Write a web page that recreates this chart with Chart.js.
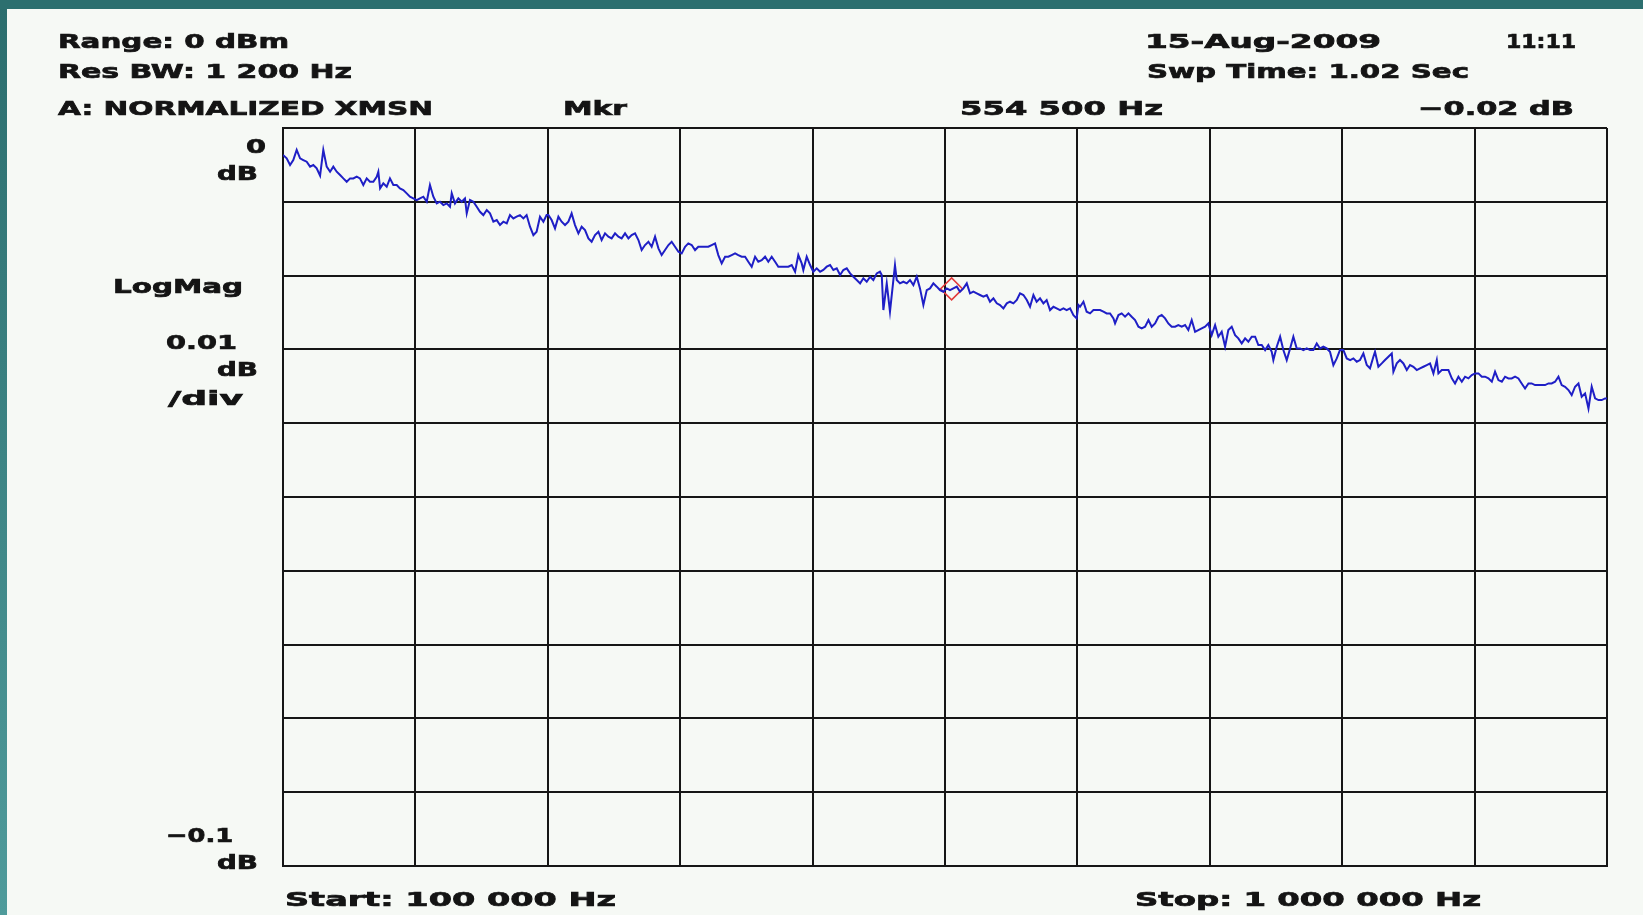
<!DOCTYPE html>
<html>
<head>
<meta charset="utf-8">
<title>A: NORMALIZED XMSN</title>
<script src="https://cdn.jsdelivr.net/npm/chart.js@4.4.0/dist/chart.umd.min.js"></script>
<style>
  html, body { margin: 0; padding: 0; background: #2d6f6f; overflow: hidden; }
  canvas { display: block; }
</style>
</head>
<body>
<canvas id="trace" width="1643" height="915"></canvas>
<script>
// sweep 100 kHz .. 1 MHz, LogMag 0.01 dB/div, top = 0 dB
const startHz = 100000;
const stopHz = 1000000;
const topDb = 0;
const bottomDb = -0.1;

// trace: frequency (kHz) and level (milli-dB)
const freqKHz = [
  100.0, 102.5, 104.8, 107.0, 109.3, 111.6, 113.8, 116.1, 118.4, 120.6, 122.9, 125.2, 127.4, 129.7, 132.0, 134.2,
  136.5, 138.8, 141.0, 143.3, 145.6, 147.8, 150.1, 152.3, 154.6, 156.9, 159.1, 161.4, 163.7, 164.8, 166.0, 168.2,
  170.5, 172.7, 175.0, 177.3, 179.5, 181.8, 184.1, 186.3, 188.6, 190.9, 193.1, 195.4, 197.7, 199.9, 202.2, 204.5,
  206.7, 209.0, 211.3, 213.5, 214.7, 216.9, 219.2, 221.5, 223.7, 224.9, 227.1, 229.4, 231.7, 233.9, 236.2, 238.5,
  240.7, 243.0, 245.3, 247.5, 249.8, 252.1, 254.3, 256.6, 258.8, 261.1, 263.4, 265.6, 267.9, 270.2, 272.4, 274.7,
  277.0, 279.2,
  280.4, 282.6, 284.9, 287.2, 289.4, 291.7, 294.0, 296.2, 298.5, 300.8, 303.0, 305.3, 307.6, 309.8, 312.1, 314.4,
  316.6, 318.9, 321.2, 323.4, 325.7, 328.0, 330.2, 332.5, 334.8, 337.0, 339.3, 341.6, 343.8, 346.1, 348.4, 350.6,
  352.9, 355.2, 357.4, 359.7, 362.0, 364.2, 366.5, 368.8, 371.0, 373.3, 375.5, 377.8, 380.1, 382.3, 384.6, 386.9,
  389.1, 391.4, 393.7, 395.9, 398.2, 400.5, 402.7, 405.0, 407.3, 409.5, 411.8, 414.1, 416.3, 418.6, 420.9, 423.1,
  425.4, 427.7, 429.9, 432.2, 434.5, 436.7, 439.0, 441.3, 443.5, 445.8, 448.1, 450.3, 452.6, 453.7, 456.0, 458.3,
  460.5, 462.8, 465.1, 467.3, 469.6, 471.9, 474.1, 476.4, 478.7, 480.9, 483.2, 485.5, 487.7, 490.0, 492.3, 494.5,
  496.8, 499.1, 501.3, 503.6, 505.8, 507.0, 508.1, 510.4, 512.6, 514.9, 516.0, 517.2, 519.4, 521.7, 524.0, 526.2,
  528.5, 530.8, 533.0, 535.3, 537.6, 539.8, 542.1, 544.4, 546.6, 548.9, 551.2, 553.4, 555.7, 558.0, 560.2, 562.5,
  564.8, 567.0, 569.3, 571.6, 573.8, 576.1, 578.4, 580.6, 582.9, 585.2, 587.4, 589.7, 592.0, 594.2, 596.5, 598.8,
  601.0, 603.3, 605.6, 607.8, 610.1, 612.3, 614.6, 616.9, 619.1, 621.4, 623.7, 625.9, 628.2, 630.5, 632.7, 635.0,
  637.3, 639.5, 640.7,
  641.8, 644.1, 646.3, 648.6, 650.9, 653.1, 655.4, 657.7, 659.9, 662.2, 664.5, 665.6, 667.9, 670.1, 672.4, 674.7,
  676.9, 679.2, 681.5, 683.7, 686.0, 688.3, 690.5, 692.8, 695.1, 697.3, 699.6, 701.8, 704.1, 706.4, 708.6, 710.9,
  713.2, 715.4, 717.7, 720.0, 722.2, 724.5, 726.8, 729.0, 731.3, 733.6, 735.8, 738.1, 740.4, 742.6, 744.9, 747.2,
  749.4, 751.7, 754.0, 756.2, 758.5, 760.8, 763.0, 765.3, 767.6, 769.8, 772.1, 773.2, 775.5, 777.8, 780.0, 782.3,
  784.6, 786.8, 789.1, 791.4, 793.6, 795.9, 798.2, 800.4, 802.7, 804.9, 807.2, 809.5, 811.7, 814.0, 816.3, 818.5,
  820.8,
  823.1, 825.4, 827.6, 829.9, 832.1, 834.4, 836.7, 838.9, 841.2, 842.3, 844.6, 846.9, 849.1, 851.4, 853.7, 854.8,
  857.1, 859.3, 861.6, 863.9, 866.1, 868.4, 870.7, 872.9, 875.2, 877.5, 879.7, 882.0, 884.3, 885.4, 887.7, 889.9,
  892.2, 894.5, 896.7, 899.0, 901.3, 903.5, 905.8, 908.1, 910.3, 912.6, 914.9, 917.1, 919.4, 921.7, 923.9, 926.2,
  928.5, 930.7, 933.0, 935.2, 937.5, 939.8, 942.0, 944.3, 946.6, 948.8, 951.1, 953.4, 955.6, 957.9, 960.2, 962.4,
  964.7, 967.0, 969.2, 971.5, 973.8, 976.0, 978.3, 980.6, 982.8, 985.1, 987.4, 989.6, 991.9, 994.2, 996.4, 998.7,
  1000.0
];
const levelMdB = [
  -3.66, -4.11, -5.02, -4.34, -2.98, -4.11, -4.34, -4.57, -5.24, -5.02, -5.47, -6.46, -2.98, -5.24, -5.92, -5.24,
  -5.92, -6.37, -6.83, -7.28, -6.83, -6.83, -6.60, -6.83, -7.73, -6.83, -7.28, -7.28, -6.60, -5.92, -8.18, -7.50,
  -7.96, -6.83, -7.73, -7.73, -8.18, -8.41, -8.86, -9.31, -9.54, -9.76, -9.54, -9.31, -9.99, -7.73, -9.31, -10.22,
  -9.99, -10.44, -10.22, -10.67, -8.86, -10.22, -9.54, -9.99, -9.54, -11.57, -9.76, -9.99, -10.67, -11.35, -11.80, -11.12,
  -11.57, -12.70, -12.48, -13.15, -12.70, -12.93, -11.80, -12.25, -12.02, -11.80, -12.25, -11.80, -13.38, -14.51, -14.06, -12.02,
  -12.70, -11.80,
  -11.79, -12.47, -13.60, -12.02, -12.70, -13.15, -12.70, -11.57, -13.15, -14.28, -13.38, -13.83, -14.96, -15.41, -14.51, -14.05,
  -15.18, -14.28, -14.73, -14.96, -14.28, -14.73, -14.96, -14.28, -14.96, -14.51, -14.28, -15.18, -16.54, -15.86, -15.41, -16.09,
  -14.73, -16.31, -17.22, -16.54, -15.86, -15.41, -16.09, -16.77, -16.99, -16.09, -15.64, -15.86, -16.54, -16.09, -16.09, -16.09,
  -16.09, -15.86, -15.64, -17.22, -18.35, -17.44, -17.44, -17.22, -16.99, -17.22, -17.44, -17.44, -18.12, -18.80, -17.44, -18.12,
  -17.90, -17.44, -18.12, -17.44, -18.12, -18.80, -18.80, -18.80, -18.80, -18.57, -19.48, -17.22, -18.35, -19.25, -17.44, -18.57,
  -19.47, -19.02, -19.47, -19.24, -18.79, -18.57, -19.24, -19.02, -19.92, -19.24, -19.02, -19.70, -20.15, -20.60, -21.05, -20.37,
  -20.83, -20.15, -20.60, -19.70, -19.47, -19.92, -24.67, -21.05, -24.89, -20.60, -18.57, -20.60, -21.05, -20.83, -21.05, -20.60,
  -21.28, -20.15, -21.73, -23.99, -21.96, -21.73, -21.05, -21.50, -21.96, -22.18, -21.73, -21.96, -21.73, -21.50, -22.18, -21.73,
  -21.05, -22.41, -22.18, -22.41, -22.63, -22.86, -22.63, -23.54, -23.09, -23.76, -23.99, -24.44, -23.76, -23.54, -23.76, -23.31,
  -22.41, -22.63, -23.31, -24.22, -22.63, -23.54, -23.09, -23.76, -23.31, -24.67, -24.22, -24.44, -24.67, -24.44, -24.67, -24.44,
  -25.35, -25.80, -23.99,
  -24.22, -23.54, -24.89, -25.12, -24.67, -24.67, -24.67, -24.89, -25.12, -25.12, -25.80, -26.48, -25.35, -25.12, -25.57, -25.12,
  -25.57, -26.02, -26.93, -27.15, -26.93, -26.02, -26.93, -26.48, -25.57, -25.35, -25.80, -26.48, -26.93, -26.93, -26.70, -26.93,
  -26.70, -27.38, -26.02, -27.61, -27.38, -27.15, -26.93, -26.48, -28.06, -26.70, -28.28, -27.61, -29.64, -27.38, -26.93, -28.06,
  -28.51, -29.19, -28.51, -28.96, -28.28, -28.28, -29.41, -29.41, -30.09, -29.41, -30.32, -31.45, -29.64, -28.28, -30.09, -31.45,
  -29.87, -28.28, -29.87, -29.87, -30.09, -29.87, -30.09, -30.09, -29.19, -29.87, -29.64, -29.87, -30.32, -32.13, -31.22, -30.09,
  -30.09,
  -31.22, -31.44, -31.22, -31.67, -31.44, -30.54, -32.12, -32.57, -30.99, -30.31, -32.35, -31.90, -31.44, -30.99, -30.54, -33.03,
  -31.90, -31.44, -31.90, -32.80, -32.12, -32.35, -32.80, -32.57, -32.35, -32.12, -31.90, -33.25, -31.44, -33.25, -32.80, -32.80,
  -32.80, -33.93, -34.61, -33.70, -34.38, -33.70, -33.93, -33.48, -33.25, -33.25, -33.70, -33.70, -33.93, -34.38, -33.03, -34.16,
  -34.38, -33.70, -33.93, -33.93, -33.70, -33.93, -34.61, -35.29, -34.61, -34.61, -34.83, -34.83, -34.83, -34.83, -34.61, -34.61,
  -34.38, -33.70, -34.83, -35.06, -35.51, -36.19, -35.06, -34.61, -36.42, -35.96, -38.00, -35.06, -36.64, -36.87, -36.87, -36.64,
  -36.64
];

// marker A
const markerHz = 554500;
const markerDb = -0.0218;

const rangeDbm = 0;
const resBwHz = 1200;
const sweepSec = 1.02;
const dateText = "15-Aug-2009";
const timeText = "11:11";

function groupDigits(n) {
  return String(n).replace(/\B(?=(\d{3})+(?!\d))/g, " ");
}

// screen annotations: text, left edge, right edge, middle y
const annotations = [
  ["Range: " + rangeDbm + " dBm", 58, 289, 40],
  ["Res BW: " + groupDigits(resBwHz) + " Hz", 58, 352, 70],
  ["A: NORMALIZED XMSN", 58, 433, 107],
  ["Mkr", 563, 627, 107],
  [groupDigits(markerHz) + " Hz", 960, 1163, 107],
  [(Math.round(markerDb * 100) / 100).toFixed(2).replace("-", "\u2212") + " dB", 1418, 1574, 107],
  [dateText, 1145, 1381, 40],
  [timeText, 1506, 1576, 40],
  ["Swp Time: " + sweepSec.toFixed(2) + " Sec", 1147, 1469, 70],
  [String(topDb), 246, 266, 145],
  ["dB", 217, 258, 172],
  ["LogMag", 113, 243, 285],
  ["0.01", 166, 237, 341],
  ["dB", 217, 258, 368],
  ["/div", 168, 243, 397],
  ["\u22120.1", 166, 233, 834],
  ["dB", 217, 258, 861],
  ["Start: " + groupDigits(startHz) + " Hz", 285, 616, 898],
  ["Stop: " + groupDigits(stopHz) + " Hz", 1135, 1481, 898]
];

const screenPlugin = {
  id: "screen",
  beforeDraw(chart) {
    const ctx = chart.ctx;
    ctx.save();
    // teal bezel on top and left, pale screen elsewhere
    let g = ctx.createLinearGradient(0, 0, 0, chart.height);
    g.addColorStop(0, "#2b6d6d");
    g.addColorStop(1, "#4f9b9b");
    ctx.fillStyle = g;
    ctx.fillRect(0, 0, chart.width, chart.height);
    ctx.fillStyle = "#2c6f6f";
    ctx.fillRect(0, 0, chart.width, 9);
    ctx.fillStyle = "#f6f9f5";
    ctx.fillRect(7, 9, chart.width - 7, chart.height - 9);
    ctx.restore();
  },
  afterDraw(chart) {
    const ctx = chart.ctx;
    ctx.save();
    ctx.fillStyle = "#141414";
    ctx.strokeStyle = "#141414";
    ctx.lineWidth = 0.7;
    ctx.font = "bold 20px 'DejaVu Sans'";
    ctx.textBaseline = "middle";
    annotations.forEach(a => {
      let w = ctx.measureText(a[0]).width;
      ctx.save();
      ctx.translate(a[1], a[3] + 2.5);
      ctx.scale((a[2] - a[1]) / w, 1);
      ctx.fillText(a[0], 0, 0);
      ctx.strokeText(a[0], 0, 0);
      ctx.restore();
    });
    ctx.restore();
  }
};

let points = freqKHz.map((f, i) => ({ x: f * 1000, y: levelMdB[i] / 1000 }));

let ctx = document.getElementById("trace").getContext("2d");
new Chart(ctx, {
  type: "line",
  data: {
    datasets: [{
      data: points,
      borderColor: "#1f1fc6",
      borderWidth: 2,
      pointRadius: 0,
      tension: 0,
      fill: false
    }, {
      data: [{ x: markerHz, y: markerDb }],
      showLine: false,
      pointStyle: "rectRot",
      pointRadius: 11,
      pointBorderColor: "#e23a3a",
      pointBackgroundColor: "rgba(0,0,0,0)",
      pointBorderWidth: 1.5
    }]
  },
  options: {
    responsive: false,
    animation: false,
    devicePixelRatio: 1,
    layout: { padding: { left: 283, top: 128, right: 36, bottom: 49 } },
    plugins: { legend: { display: false }, tooltip: { enabled: false } },
    scales: {
      x: {
        type: "linear",
        min: startHz,
        max: stopHz,
        ticks: { display: false, count: 11 },
        grid: { color: "#161616", lineWidth: 2, drawTicks: false },
        border: { color: "#161616", width: 2 }
      },
      y: {
        type: "linear",
        min: bottomDb,
        max: topDb,
        ticks: { display: false, count: 11 },
        grid: { color: "#161616", lineWidth: 2, drawTicks: false },
        border: { color: "#161616", width: 2 }
      }
    }
  },
  plugins: [screenPlugin]
});
</script>
</body>
</html>
